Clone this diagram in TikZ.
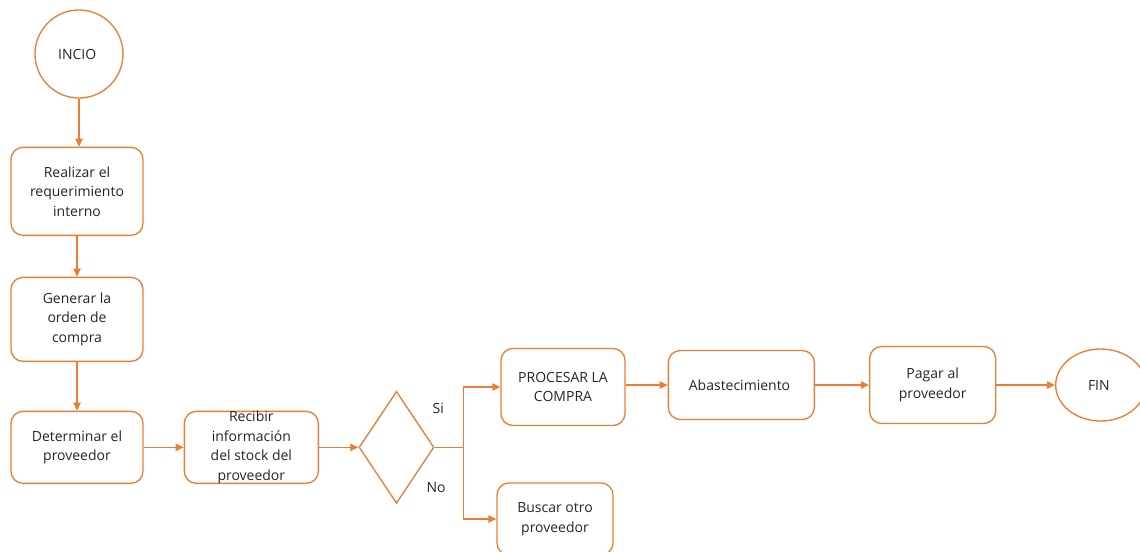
\documentclass[tikz,border=0pt]{standalone}
\usepackage{fontspec}
\setmainfont{Open Sans}
\usepackage{tikz}
\usetikzlibrary{positioning, shapes.geometric, arrows.meta}

\definecolor{naranja}{HTML}{ED7D31}
\definecolor{texto}{HTML}{262626}

\begin{document}
\begin{tikzpicture}[x = 0.75pt, y = 0.75pt,
    every node/.style = { align = center, text = texto, font = \fontsize{10.5}{14.6}\selectfont },
    caja/.style = { draw = naranja, line width = 1pt, rounded corners = 9pt, fill = white, inner sep = 2pt },
    terminal/.style = { draw = naranja, line width = 1pt, fill = white },
    decision/.style = { draw = naranja, line width = 1pt, shape = diamond, inner sep = 0pt,
                        minimum width = 56.25pt, minimum height = 84pt },
    flecha/.style = { draw = naranja, line width = 1pt, -{Triangle[length = 6pt, width = 5.5pt]} }]

    \useasboundingbox (0,0) rectangle (1140,-551);
    \clip (0,0) rectangle (1140,-551);

    % columna de la izquierda
    \node [terminal, circle, minimum size = 66pt] (inicio) at (79,-54) { INCIO };
    \node [caja, minimum width = 99pt, minimum height = 66pt, below = 36pt of inicio, xshift = -1.5pt]
        (realizar) { Realizar el \\ requerimiento \\ interno };
    \node [caja, minimum width = 99pt, minimum height = 63pt, below = 30.5pt of realizar]
        (generar) { Generar la \\ orden de \\ compra };
    \node [caja, minimum width = 99pt, minimum height = 54pt, below = 36.5pt of generar]
        (determinar) { Determinar el \\ proveedor };

    % fila de abajo
    \node [caja, minimum width = 100.5pt, minimum height = 54pt, right = 30pt of determinar,
           label = { center : Recibir \\ información \\ del stock del \\ proveedor }]
        (recibir) {};
    \node [decision, right = 29.5pt of recibir] (decision) {};
    \coordinate [right = 21.75pt of decision] (rama);

    % ramas
    \node [caja, minimum width = 93pt, minimum height = 57.75pt] (procesar) at (563,-387)
        { PROCESAR LA \\ COMPRA };
    \node [caja, minimum width = 87pt, minimum height = 54pt] (buscar) at (555,-519)
        { Buscar otro \\ proveedor };
    \node (si) at (440,-408) { Si };
    \node (no) at (438,-488) { No };

    \node [caja, minimum width = 109.5pt, minimum height = 51.75pt, right = 31.5pt of procesar, yshift = 1.5pt]
        (abastecimiento) { Abastecimiento };
    \node [caja, minimum width = 94.5pt, minimum height = 57.75pt, right = 40.5pt of abastecimiento]
        (pagar) { Pagar al \\ proveedor };
    \node [terminal, ellipse, minimum width = 67.5pt, minimum height = 54pt, right = 44pt of pagar]
        (fin) { FIN };

    \draw [flecha] (inicio.south) -- (inicio.south |- realizar.north);
    \draw [flecha] (realizar) -- (generar);
    \draw [flecha] (generar) -- (determinar);
    \draw [flecha] (determinar) -- (recibir);
    \draw [flecha] (recibir) -- (decision);
    \draw [flecha] (decision.east) -- (rama) |- (procesar.west);
    \draw [flecha] (rama) |- (buscar.west);
    \draw [flecha] (procesar.east |- abastecimiento) -- (abastecimiento);
    \draw [flecha] (abastecimiento) -- (pagar);
    \draw [flecha] (pagar) -- (fin);

\end{tikzpicture}
\end{document}
